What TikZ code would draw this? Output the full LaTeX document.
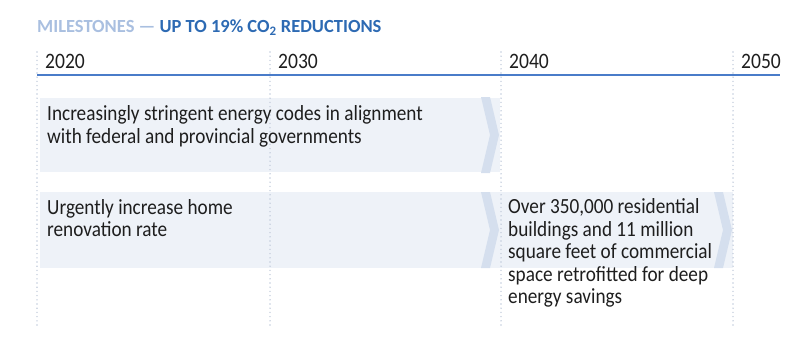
\documentclass[tikz,border=0pt]{standalone}
\usepackage{fontspec}
\setmainfont{Carlito}[FakeStretch=0.89]
\newfontfamily\headfont{Carlito}[FakeStretch=1.0]
\definecolor{bandfill}{HTML}{EEF2F8}
\definecolor{chevfill}{HTML}{D5DFEE}
\definecolor{gridcol}{HTML}{C3CDDC}
\definecolor{axiscol}{HTML}{4A7CC9}
\definecolor{titlelight}{HTML}{A9BFE0}
\definecolor{titledark}{HTML}{2D6AB3}
\definecolor{inkcol}{HTML}{1E1E1E}

\begin{document}
\begin{tikzpicture}[x=1pt,y=-1pt]
	\tikzstyle{every node}+=[inner sep=0pt]
	\tikzset{
		band/.style={fill=bandfill},
		chev/.style={fill=chevfill},
		grid/.style={draw=gridcol, line width=1.6pt, line cap=round, dash pattern=on 0pt off 4.2pt},
		year/.style={anchor=base west, text=inkcol, font=\fontsize{22}{22}\selectfont},
		task/.style={anchor=base west, align=left, text=inkcol, font=\fontsize{21.6}{22.4}\selectfont}
	}
	\useasboundingbox (0,0) rectangle (800,361);
	\fill [band] (40,98) rectangle (500,172);
	\fill [band] (40,192) rectangle (733,268);
	\fill [chev] (481,97) -- (490,97) -- (499,135) -- (490,173) -- (481,173) -- (490,135) -- cycle;
	\fill [chev] (481,192) -- (490,192) -- (499,230) -- (490,268) -- (481,268) -- (490,230) -- cycle;
	\fill [chev] (714,192) -- (723,192) -- (732,230) -- (723,268) -- (714,268) -- (723,230) -- cycle;
	\foreach \x in {37,270,501,733}
		\draw [grid] (\x,52) -- (\x,326);
	\draw [axiscol, line width=1.4pt] (37,75) -- (780,75);
	\node [anchor=base west, font=\headfont\bfseries\fontsize{18.5}{18.5}\selectfont] (title) at (37,33)
		{\color{titlelight}MILESTONES —\ \color{titledark}UP TO 19\% CO\textsubscript{2} REDUCTIONS};
	\node [year] (y2020) at (45,69) {2020};
	\node [year] (y2030) at (278,69) {2030};
	\node [year] (y2040) at (509,69) {2040};
	\node [year] (y2050) at (741,69) {2050};
	\node [task] (codes) at (47,143) {Increasingly stringent energy codes in alignment\\with federal and provincial governments};
	\node [task] (reno) at (47,236.5) {Urgently increase home\\renovation rate};
	\node [task] (retro) at (508,303.5) {Over 350,000 residential\\buildings and 11 million\\square feet of commercial\\space retrofitted for deep\\energy savings};
\end{tikzpicture}
\end{document}
